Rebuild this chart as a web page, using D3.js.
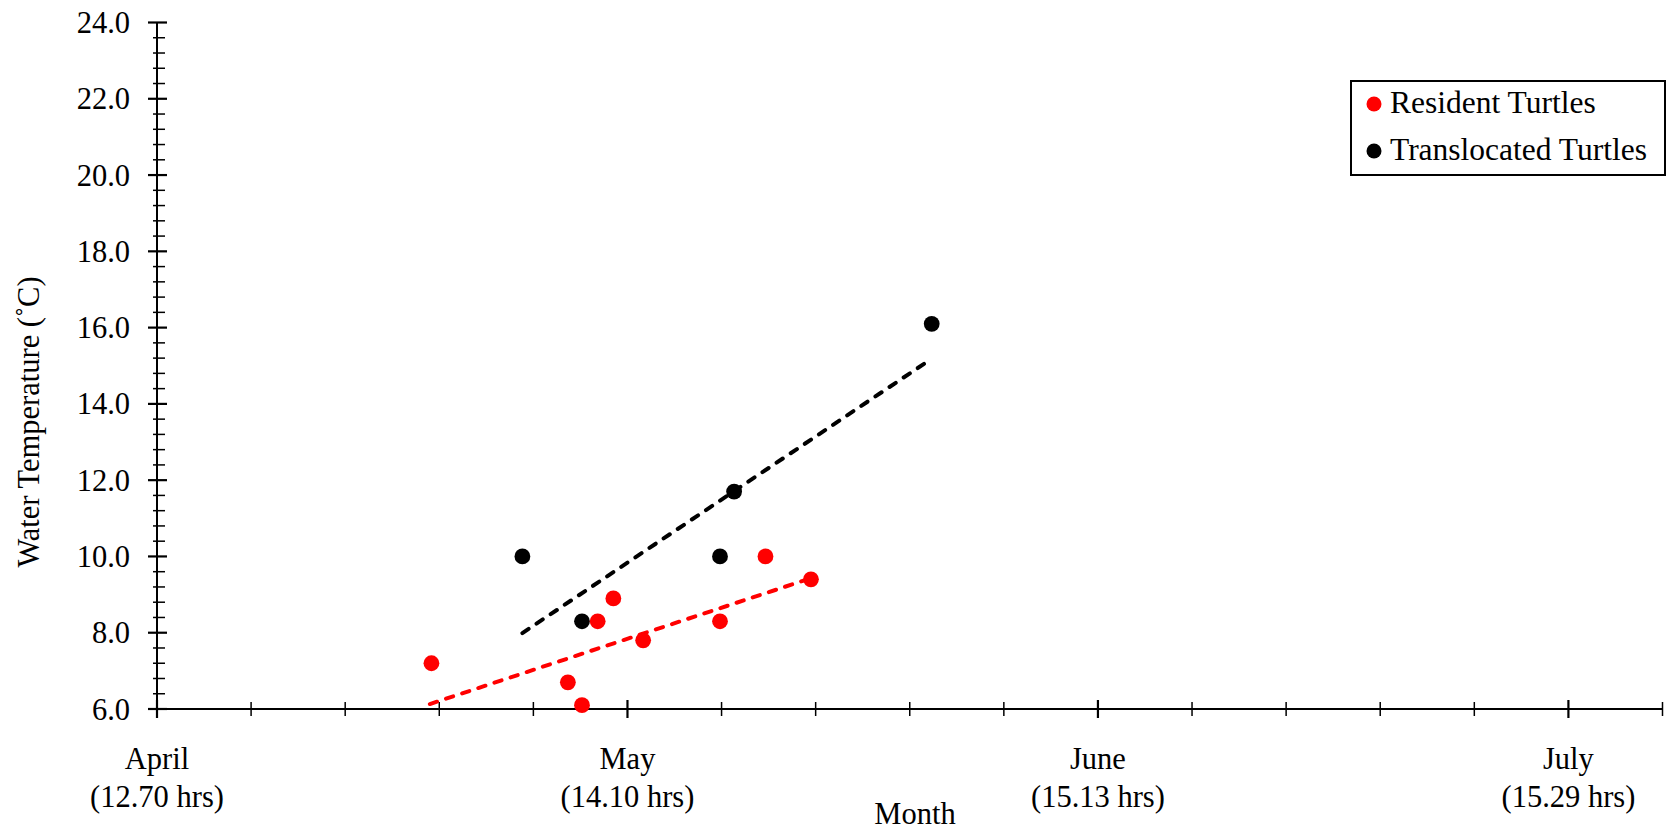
<!DOCTYPE html>
<html>
<head>
<meta charset="utf-8">
<script src="https://cdn.jsdelivr.net/npm/d3@7"></script>
<style>
body { margin: 0; background: #fff; }
text { font-family: 'Liberation Serif', 'Times New Roman', serif; fill: #000; }
</style>
</head>
<body>
<script>
// months on the x axis (days counted from 1 April, 30 per month on the plot)
const months = ['April', 'May', 'June', 'July']
const dayLength = ['(12.70 hrs)', '(14.10 hrs)', '(15.13 hrs)', '(15.29 hrs)']
const monthDays = [0, 30, 60, 90]
const yTicks = [6, 8, 10, 12, 14, 16, 18, 20, 22, 24]

// resident turtles
const residentDay = [17.5, 26.2, 27.1, 28.1, 29.1, 31.0, 35.9, 38.8, 41.7]
const residentTemp = [7.2, 6.7, 6.1, 8.3, 8.9, 7.8, 8.3, 10.0, 9.4]
// translocated turtles
const translocDay = [23.3, 27.1, 35.9, 36.8, 49.4]
const translocTemp = [10.0, 8.3, 10.0, 11.7, 16.1]

// trend line end points
const residentTrend = [[17.4, 6.13], [41.7, 9.43]]
const translocTrend = [[23.3, 7.99], [49.2, 15.13]]

const W = 1671, H = 830

const svg = d3.select('body').append('svg')
  .attr('width', W)
  .attr('height', H)

const x = d3.scaleLinear().domain([0, 96]).range([157, 1662.5])
const y = d3.scaleLinear().domain([6, 24]).range([709, 22.5])

// axes lines
svg.append('line')
  .attr('x1', x(0)).attr('x2', x(0))
  .attr('y1', y(24)).attr('y2', y(6))
  .attr('stroke', '#000').attr('stroke-width', 2)
svg.append('line')
  .attr('x1', x(0)).attr('x2', x(96))
  .attr('y1', y(6)).attr('y2', y(6))
  .attr('stroke', '#000').attr('stroke-width', 2)

// y ticks, crossing the axis
const yMinor = d3.range(0, 46).map(i => 6 + i * 0.4)
svg.append('g').selectAll('line')
  .data(yMinor)
  .enter().append('line')
    .attr('x1', (d, i) => i % 5 ? x(0) - 4 : x(0) - 9)
    .attr('x2', (d, i) => i % 5 ? x(0) + 8 : x(0) + 10)
    .attr('y1', d => y(d)).attr('y2', d => y(d))
    .attr('stroke', '#000')
    .attr('stroke-width', (d, i) => i % 5 ? 1.5 : 2.2)

svg.append('g').selectAll('text')
  .data(yTicks)
  .enter().append('text')
    .attr('x', 130)
    .attr('y', d => y(d) + 10.5)
    .attr('text-anchor', 'end')
    .style('font-size', '30.5px')
    .text(d => d.toFixed(1))

// x ticks
const xMinor = d3.range(0, 17).map(i => i * 6)
svg.append('g').selectAll('line')
  .data(xMinor)
  .enter().append('line')
    .attr('x1', d => x(d)).attr('x2', d => x(d))
    .attr('y1', (d, i) => i % 5 ? y(6) - 7 : y(6) - 9)
    .attr('y2', (d, i) => i % 5 ? y(6) + 7 : y(6) + 9)
    .attr('stroke', '#000')
    .attr('stroke-width', (d, i) => i % 5 ? 1.5 : 2.2)

svg.append('g').selectAll('text')
  .data(months)
  .enter().append('text')
    .attr('text-anchor', 'middle')
    .attr('x', (d, i) => x(monthDays[i]))
    .attr('y', 769)
    .style('font-size', '30.5px')
    .text(d => d)
svg.append('g').selectAll('text')
  .data(dayLength)
  .enter().append('text')
    .attr('text-anchor', 'middle')
    .attr('x', (d, i) => x(monthDays[i]))
    .attr('y', 807)
    .style('font-size', '30.5px')
    .text(d => d)

// axis titles
svg.append('text')
  .attr('x', 915).attr('y', 824)
  .attr('text-anchor', 'middle')
  .style('font-size', '30.5px')
  .text('Month')
svg.append('text')
  .attr('transform', 'translate(39,422) rotate(-90)')
  .attr('text-anchor', 'middle')
  .style('font-size', '30.5px')
  .text('Water Temperature (˚C)')

// trend lines
const line = d3.line().x(d => x(d[0])).y(d => y(d[1]))
svg.append('path')
  .datum(translocTrend)
  .attr('d', line)
  .attr('fill', 'none').attr('stroke', '#000')
  .attr('stroke-width', 4).attr('stroke-linecap', 'round')
  .attr('stroke-dasharray', '7.5,9.5')
svg.append('path')
  .datum(residentTrend)
  .attr('d', line)
  .attr('fill', 'none').attr('stroke', '#ff0000')
  .attr('stroke-width', 4).attr('stroke-linecap', 'round')
  .attr('stroke-dasharray', '7.5,9.5')

// points
svg.append('g').selectAll('circle')
  .data(translocDay)
  .enter().append('circle')
    .attr('cx', d => x(d))
    .attr('cy', (d, i) => y(translocTemp[i]))
    .attr('r', 7.9)
    .attr('fill', '#000')
svg.append('g').selectAll('circle')
  .data(residentDay)
  .enter().append('circle')
    .attr('cx', d => x(d))
    .attr('cy', (d, i) => y(residentTemp[i]))
    .attr('r', 7.9)
    .attr('fill', '#ff0000')

// legend
const lg = svg.append('g')
lg.append('rect')
  .attr('x', 1351).attr('y', 81)
  .attr('width', 314).attr('height', 94)
  .attr('fill', '#fff').attr('stroke', '#000').attr('stroke-width', 2)
const legendItems = [['Resident Turtles', '#ff0000'], ['Translocated Turtles', '#000']]
lg.selectAll('circle')
  .data(legendItems)
  .enter().append('circle')
    .attr('cx', 1374)
    .attr('cy', (d, i) => 104 + i * 47)
    .attr('r', 7.5)
    .attr('fill', d => d[1])
lg.selectAll('text')
  .data(legendItems)
  .enter().append('text')
    .attr('x', 1390)
    .attr('y', (d, i) => 113 + i * 47)
    .style('font-size', '31.5px')
    .text(d => d[0])
</script>
</body>
</html>
